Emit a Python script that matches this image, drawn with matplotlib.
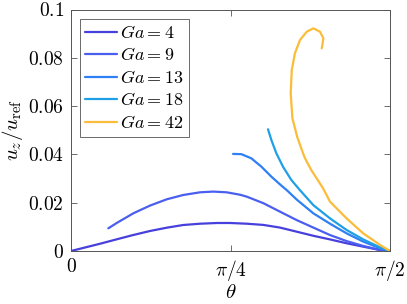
import numpy as np
import matplotlib
matplotlib.use('Agg')
import matplotlib.pyplot as plt

plt.rcParams['mathtext.fontset'] = 'cm'
plt.rcParams['font.family'] = 'serif'
plt.rcParams['font.serif'] = ['DejaVu Serif']

# curves, theta given as fraction of pi/2
frac4 = [0.0, 0.0909, 0.1433, 0.1953, 0.2476, 0.3, 0.352, 0.4044, 0.4567, 0.498, 0.551,
         0.603, 0.655, 0.7075, 0.7596, 0.812, 0.864, 0.916, 0.969, 1.0]
u4 = [0.0, 0.0030, 0.00484, 0.00663, 0.00828, 0.00965, 0.01077, 0.0113, 0.01159, 0.0116, 0.0113,
      0.0108, 0.0097, 0.0080, 0.0063, 0.0048, 0.0032, 0.0018, 0.0004, 0.0]

frac9 = [0.117, 0.1433, 0.1953, 0.2476, 0.3, 0.352, 0.4044, 0.446, 0.488, 0.53, 0.551,
         0.603, 0.655, 0.7075, 0.7596, 0.812, 0.864, 0.916, 0.969, 1.0]
u9 = [0.0094, 0.0116, 0.0156, 0.0188, 0.0214, 0.0232, 0.0243, 0.0246, 0.0243, 0.0233, 0.0225,
      0.0198, 0.0163, 0.0128, 0.0097, 0.0066, 0.0041, 0.0021, 0.0004, 0.0]

frac13 = [0.508, 0.534, 0.565, 0.597, 0.628, 0.655, 0.678, 0.7075, 0.7596, 0.812, 0.864,
          0.916, 0.969, 1.0]
u13 = [0.0402, 0.0401, 0.0384, 0.0349, 0.0308, 0.0276, 0.0250, 0.0213, 0.0156, 0.0113, 0.0073,
       0.0039, 0.0011, 0.0]

frac18 = [0.6176, 0.628, 0.6436, 0.6646, 0.6907, 0.717, 0.7596, 0.812, 0.864, 0.916, 0.969, 1.0]
u18 = [0.0504, 0.0460, 0.0405, 0.0349, 0.0294, 0.0253, 0.0190, 0.0135, 0.0087, 0.0048, 0.0015, 0.0]

frac42 = [1.0, 0.969, 0.916, 0.864, 0.812, 0.79, 0.7533, 0.7335, 0.7273, 0.709, 0.694, 0.6887,
          0.692, 0.702, 0.718, 0.739, 0.7596, 0.7806, 0.791, 0.788, 0.786]
u42 = [0.0, 0.0025, 0.0073, 0.0135, 0.0204, 0.0260, 0.0335, 0.0384, 0.0405, 0.0473, 0.0550, 0.0653,
       0.0749, 0.0819, 0.0874, 0.0908, 0.0922, 0.0908, 0.0881, 0.0853, 0.0839]

labels = [4, 9, 13, 18, 42]
colors = ['#4840dc', '#4a5ef0', '#2e80f4', '#1fa0e6', '#fbbc3a']

fig = plt.figure(figsize=(4.07, 3.04), dpi=100)
ax = fig.add_axes([71 / 407, 1 - 251 / 304, 319 / 407, 241.5 / 304])

fracs = [frac4, frac9, frac13, frac18, frac42]
us = [u4, u9, u13, u18, u42]
for f, u, ga, c in zip(fracs, us, labels, colors):
    th = np.array(f) * np.pi / 2
    ax.plot(th, u, color=c, lw=1.6, label='$Ga = %d$' % ga,
            solid_capstyle='round', solid_joinstyle='round')

ax.set_xlim(0, np.pi / 2)
ax.set_ylim(0, 0.1)
ax.set_xticks([0, np.pi / 4, np.pi / 2])
ax.set_xticklabels(['$0$', r'$\pi/4$', r'$\pi/2$'])
ax.set_yticks([0, 0.02, 0.04, 0.06, 0.08, 0.1])
ax.set_yticklabels(['$0$', '$0.02$', '$0.04$', '$0.06$', '$0.08$', '$0.1$'])
ax.tick_params(direction='in', top=True, right=True, labelsize=14, color='#555555',
               length=4, width=0.6, pad=5)
for s in ax.spines.values():
    s.set_color('#555555')
    s.set_linewidth(0.7)

ax.set_xlabel(r'$\theta$', fontsize=15, labelpad=0)
ax.set_ylabel(r'$u_z/u_{\rm ref}$', fontsize=15, labelpad=2)

leg = ax.legend(loc='upper left', fontsize=13, frameon=True, fancybox=False,
                edgecolor='#444444', borderaxespad=0.5, handlelength=1.75,
                handletextpad=0.15, labelspacing=0.25, borderpad=0.3)
leg.get_frame().set_linewidth(0.7)

fig.savefig('out.png', dpi=100)
